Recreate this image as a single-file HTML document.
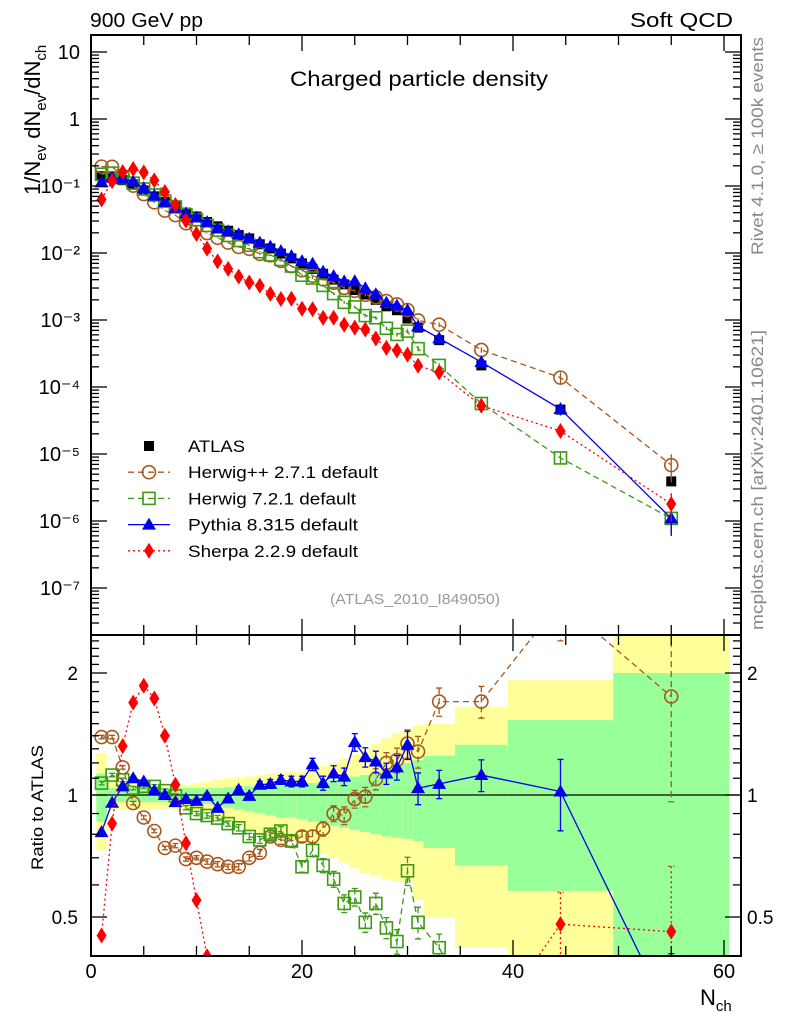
<!DOCTYPE html>
<html><head><meta charset="utf-8"><style>
html,body{margin:0;padding:0;background:#fff;overflow:hidden;width:786px;height:1024px;}
svg{display:block;font-family:"Liberation Sans",Arial,sans-serif;}
</style></head><body>
<svg id="chart" width="786" height="1024" viewBox="0 0 786 1024" xmlns="http://www.w3.org/2000/svg">
<defs>
<clipPath id="cu"><rect x="91" y="35" width="650" height="600"/></clipPath>
<clipPath id="cl"><rect x="91" y="635" width="650" height="321"/></clipPath>
</defs>
<g id="bands" clip-path="url(#cl)"></g>
<g id="lower" clip-path="url(#cl)"></g>
<g id="upper" clip-path="url(#cu)"></g>
<g id="axes"></g>
<text x="90" y="27" font-size="20" textLength="113" lengthAdjust="spacingAndGlyphs">900 GeV pp</text>
<text x="630" y="27" font-size="20" textLength="103" lengthAdjust="spacingAndGlyphs">Soft QCD</text>
<text x="290" y="86" font-size="21" textLength="258" lengthAdjust="spacingAndGlyphs">Charged particle density</text>
<text x="330" y="604" font-size="15" fill="#999" textLength="170" lengthAdjust="spacingAndGlyphs">(ATLAS_2010_I849050)</text>
<text transform="translate(763,255) rotate(-90)" font-size="17" fill="#888" textLength="218" lengthAdjust="spacingAndGlyphs">Rivet 4.1.0, ≥ 100k events</text>
<text transform="translate(763,630) rotate(-90)" font-size="17" fill="#888" textLength="300" lengthAdjust="spacingAndGlyphs">mcplots.cern.ch [arXiv:2401.10621]</text>
<text transform="translate(40,195) rotate(-90)" font-size="22">1/N<tspan font-size="15" dy="6">ev</tspan><tspan dy="-6"> dN</tspan><tspan font-size="15" dy="6">ev</tspan><tspan dy="-6">/dN</tspan><tspan font-size="15" dy="6">ch</tspan></text>
<text transform="translate(43,870) rotate(-90)" font-size="17" textLength="125" lengthAdjust="spacingAndGlyphs">Ratio to ATLAS</text>
<text x="700" y="1005" font-size="22">N<tspan font-size="15" dy="6">ch</tspan></text>
<g id="legend"></g>
</svg>
<script>
const NS="http://www.w3.org/2000/svg";
const nch=[1,2,3,4,5,6,7,8,9,10,11,12,13,14,15,16,17,18,19,20,21,22,23,24,25,26,27,28,29,30,31,33,37,44.5,55];
const binLo=[0.5,1.5,2.5,3.5,4.5,5.5,6.5,7.5,8.5,9.5,10.5,11.5,12.5,13.5,14.5,15.5,16.5,17.5,18.5,19.5,20.5,21.5,22.5,23.5,24.5,25.5,26.5,27.5,28.5,29.5,30.5,31.5,34.5,39.5,49.5];
const binHi=[1.5,2.5,3.5,4.5,5.5,6.5,7.5,8.5,9.5,10.5,11.5,12.5,13.5,14.5,15.5,16.5,17.5,18.5,19.5,20.5,21.5,22.5,23.5,24.5,25.5,26.5,27.5,28.5,29.5,30.5,31.5,34.5,39.5,49.5,60.5];
const atlas=[0.140,0.139,0.122,0.106,0.086,0.070,0.058,0.049,0.040,0.035,0.029,0.025,0.0215,0.0185,0.0165,0.0135,0.0117,0.0098,0.0083,0.0070,0.0058,0.0049,0.0040,0.0034,0.0028,0.0024,0.0020,0.0016,0.0014,0.00105,0.00077,0.00050,0.00021,0.000046,0.0000039];
const ratioHerwigpp=[1.39,1.39,1.17,0.955,0.88,0.815,0.74,0.75,0.695,0.70,0.685,0.675,0.665,0.665,0.70,0.72,0.79,0.775,0.77,0.79,0.79,0.825,0.90,0.89,0.977,0.99,1.095,1.20,1.22,1.34,1.28,1.70,1.70,3.0,1.75];
const ratioHerwig7=[1.07,1.12,1.09,1.04,1.05,1.05,1.025,0.995,0.93,0.90,0.89,0.877,0.85,0.83,0.79,0.775,0.80,0.815,0.77,0.665,0.73,0.67,0.62,0.54,0.56,0.485,0.54,0.47,0.435,0.65,0.485,0.42,0.27,0.19,0.28];
const ratioPythia=[0.81,0.957,1.05,1.10,1.08,1.025,1.0,0.96,0.977,0.967,0.995,0.93,0.98,1.03,0.995,1.06,1.065,1.09,1.08,1.08,1.19,1.07,1.13,1.11,1.35,1.24,1.21,1.13,1.17,1.33,1.04,1.065,1.12,1.02,0.28];
const ratioSherpa=[0.45,0.85,1.32,1.69,1.86,1.73,1.40,1.06,0.76,0.55,0.40,0.30,0.27,0.24,0.22,0.24,0.21,0.21,0.25,0.21,0.25,0.22,0.27,0.25,0.275,0.30,0.265,0.24,0.25,0.29,0.27,0.33,0.25,0.48,0.46];
const relErr=[0.01,0.01,0.01,0.01,0.01,0.01,0.01,0.012,0.012,0.012,0.015,0.015,0.015,0.018,0.018,0.02,0.025,0.025,0.03,0.03,0.035,0.04,0.045,0.05,0.05,0.055,0.06,0.06,0.07,0.08,0.09,0.08,0.09,0.2,0.45];
const greenHi=[1.13,1.04,1.04,1.04,1.04,1.04,1.04,1.04,1.04,1.04,1.04,1.04,1.045,1.045,1.05,1.05,1.05,1.055,1.055,1.06,1.07,1.08,1.09,1.10,1.11,1.12,1.14,1.16,1.18,1.20,1.22,1.25,1.33,1.53,2.0];
const greenLo=[0.86,0.96,0.96,0.96,0.96,0.96,0.96,0.96,0.96,0.95,0.95,0.94,0.93,0.92,0.91,0.90,0.89,0.88,0.88,0.87,0.86,0.85,0.84,0.83,0.82,0.81,0.80,0.79,0.785,0.78,0.77,0.74,0.67,0.58,0.3];
const yellowHi=[1.27,1.08,1.08,1.08,1.06,1.05,1.05,1.05,1.06,1.07,1.08,1.09,1.10,1.10,1.11,1.12,1.13,1.13,1.14,1.14,1.16,1.18,1.20,1.23,1.26,1.30,1.34,1.38,1.42,1.45,1.48,1.50,1.65,1.92,2.6];
const yellowLo=[0.73,0.92,0.92,0.92,0.92,0.92,0.92,0.92,0.92,0.91,0.90,0.88,0.86,0.84,0.82,0.80,0.79,0.78,0.775,0.77,0.75,0.72,0.70,0.68,0.66,0.64,0.63,0.62,0.61,0.61,0.55,0.50,0.42,0.35,0.2];
const yTickLabels=["10","1","10\u207B\u00B9","10\u207B\u00B2","10\u207B\u00B3","10\u207B\u2074","10\u207B\u2075","10\u207B\u2076","10\u207B\u2077"];
const xTickLabels=["0","20","40","60"];

const X=n=>91+n*10.55;
const YU=v=>119-67*Math.log10(v);
const YL=r=>795-122*Math.log2(r);
function mk(tag,attrs,parent){const e=document.createElementNS(NS,tag);for(const k in attrs)e.setAttribute(k,attrs[k]);parent.appendChild(e);return e;}
const up=document.getElementById('upper'),lo=document.getElementById('lower'),bd=document.getElementById('bands'),ax=document.getElementById('axes'),lg=document.getElementById('legend');

for(let i=0;i<nch.length;i++){
  const x0=X(binLo[i]),w=X(binHi[i])-x0;
  let r=mk('rect',{x:x0,y:YL(yellowHi[i]),width:w,height:YL(yellowLo[i])-YL(yellowHi[i]),fill:'#ffff99'},bd);
  
  
  r=mk('rect',{x:x0,y:YL(greenHi[i]),width:w,height:YL(greenLo[i])-YL(greenHi[i]),fill:'#99ff99'},bd);
  
  
}
let l1=mk('line',{x1:91,x2:741,y1:YL(1),y2:YL(1),stroke:'#000','stroke-width':1.3},lo);



function marker(g,type,x,y,col){
  let e;
  if(type==='sq') e=mk('rect',{x:x-5,y:y-5,width:10,height:10,fill:'#000'},g);
  else if(type==='circ') e=mk('circle',{cx:x,cy:y,r:6.5,fill:'none',stroke:col,'stroke-width':1.6},g);
  else if(type==='osq') e=mk('rect',{x:x-6,y:y-6,width:12,height:12,fill:'none',stroke:col,'stroke-width':1.6},g);
  else if(type==='tri') e=mk('polygon',{points:`${x},${y-7} ${x-7},${y+5} ${x+7},${y+5}`,fill:col},g);
  else if(type==='dia') e=mk('polygon',{points:`${x},${y-8} ${x-5},${y} ${x},${y+8} ${x+5},${y}`,fill:col},g);
  return e;
}
const series=[
 {name:'herwigpp',ratio:ratioHerwigpp,col:'#a8581c',mark:'circ',dash:'6,4',label:'Herwig++ 2.7.1 default'},
 {name:'herwig7',ratio:ratioHerwig7,col:'#3c9a14',mark:'osq',dash:'6,4',label:'Herwig 7.2.1 default'},
 {name:'pythia',ratio:ratioPythia,col:'#0000ee',mark:'tri',dash:'',label:'Pythia 8.315 default'},
 {name:'sherpa',ratio:ratioSherpa,col:'#ff0000',mark:'dia',dash:'2,3',label:'Sherpa 2.2.9 default'}
];
{
  const g=mk('g',{},up);
  
  
  for(let i=0;i<nch.length;i++){
    const m=marker(g,'sq',X(nch[i]),YU(atlas[i]));
    
    
  }
}
for(const s of series){
  const gu=mk('g',{},up);
  
  
  const gl=mk('g',{},lo);
  
  
  const pu=nch.map((n,i)=>`${X(n)},${YU(atlas[i]*s.ratio[i])}`).join(' ');
  const pl=nch.map((n,i)=>`${X(n)},${YL(s.ratio[i])}`).join(' ');
  let a=mk('polyline',{points:pu,fill:'none',stroke:s.col,'stroke-width':1.3,'stroke-dasharray':s.dash},gu);
  
  
  a=mk('polyline',{points:pl,fill:'none',stroke:s.col,'stroke-width':1.3,'stroke-dasharray':s.dash},gl);
  
  
  for(let i=0;i<nch.length;i++){
    const x=X(nch[i]),r=s.ratio[i],e=relErr[i];
    const hi=r*(1+e),lw=Math.max(r*(1-e),0.01);
    const eb=mk('path',{d:`M${x},${YL(hi)}V${YL(lw)}M${x-3},${YL(hi)}H${x+3}M${x-3},${YL(lw)}H${x+3}`,stroke:s.col,'stroke-width':1.3,fill:'none','stroke-dasharray':s.dash},gl);
    
    
    let m=marker(gl,s.mark,x,YL(r),s.col);
    
    
    const v=atlas[i]*r;
    const ebu=mk('path',{d:`M${x},${YU(v*(1+e))}V${YU(Math.max(v*(1-e),1e-9))}`,stroke:s.col,'stroke-width':1.3,fill:'none'},gu);
    
    
    m=marker(gu,s.mark,x,YU(v),s.col);
    
    
  }
}
const ln=(x1,y1,x2,y2,w)=>mk('line',{x1,y1,x2,y2,stroke:'#000','stroke-width':w||1.3},ax);
let fr=mk('rect',{x:91,y:35,width:650,height:921,fill:'none',stroke:'#000','stroke-width':2},ax);


let sp=ln(91,635,741,635,2);


for(let d=1;d>=-8;d--){
  for(let k=1;k<10;k++){
    const y=YU(k*Math.pow(10,d));
    if(y<35||y>635) continue;
    const L=k===1?16:8;
    ln(91,y,91+L,y);ln(741,y,741-L,y);
  }
}
yTickLabels.forEach((t,i)=>{
  const y=YU(Math.pow(10,1-i));
  const tx=mk('text',{x:80,y:y+7,'font-size':20,'text-anchor':'end'},ax);
  tx.textContent=t;
  
  
});
for(const r of [0.4,0.5,0.6,0.7,0.8,0.9,1,1.1,1.2,1.3,1.4,1.5,1.6,1.7,1.8,1.9,2,2.1,2.2,2.3,2.4]){
  const y=YL(r); if(y<635||y>956) continue;
  const L=(r===0.5||r===1||r===2)?16:8;
  ln(91,y,91+L,y);ln(741,y,741-L,y);
}
for(const [t,r] of [["2",2],["1",1],["0.5",0.5]]){
  let tx=mk('text',{x:78,y:YL(r)+7,'font-size':19,'text-anchor':'end'},ax);
  tx.textContent=t;
  
  
  tx=mk('text',{x:747,y:YL(r)+7,'font-size':19},ax);
  tx.textContent=t;
  
  
}
for(let n=0;n<=61;n+=5){
  const x=X(n),L=n%20===0?16:10;
  ln(x,35,x,35+L);ln(x,635,x,635-L);ln(x,635,x,635+L);ln(x,956,x,956-L);
}
xTickLabels.forEach((t,i)=>{
  const tx=mk('text',{x:X(i*20),y:978,'font-size':20,'text-anchor':'middle'},ax);
  tx.textContent=t;
  
  
});
const rows=[{label:'ATLAS',mark:'sq',col:'#000',dash:null}].concat(series);
const legLens=[57,190,168,170,170];
rows.forEach((s,i)=>{
  const y=446+i*26.2;
  const g=mk('g',{},lg);
  
  
  if(s.dash!==null) mk('line',{x1:128,x2:170,y1:y,y2:y,stroke:s.col,'stroke-width':1.3,'stroke-dasharray':s.dash},g);
  marker(g,s.mark,149,y,s.col);
  const t=mk('text',{x:188,y:y+6,'font-size':17,textLength:legLens[i],lengthAdjust:'spacingAndGlyphs'},g);
  t.textContent=s.label;
});
</script>
</body></html>
